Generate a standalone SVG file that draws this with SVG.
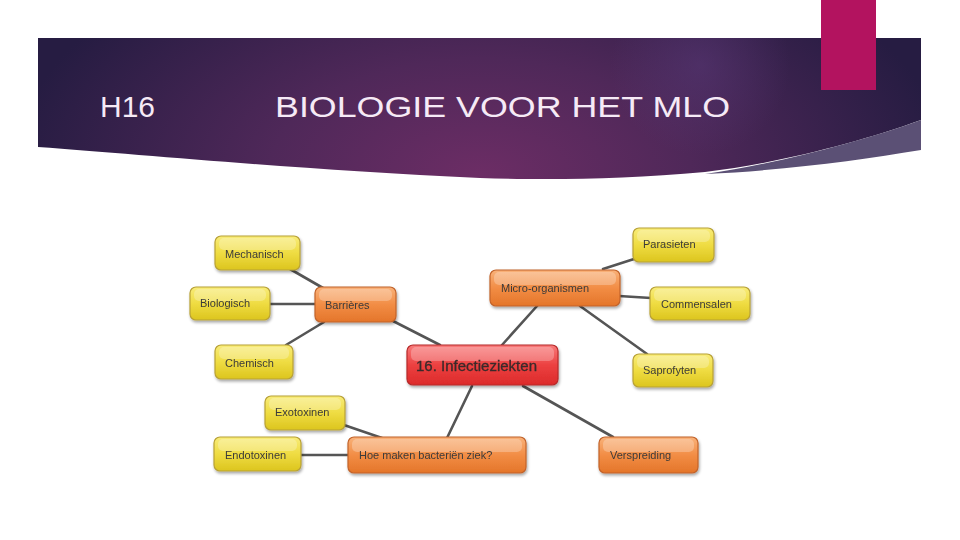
<svg xmlns="http://www.w3.org/2000/svg" width="960" height="540" viewBox="0 0 960 540">
<defs>
<radialGradient id="hdr" cx="480" cy="175" r="470" gradientUnits="userSpaceOnUse" gradientTransform="translate(480 175) scale(1 0.55) translate(-480 -175)">
<stop offset="0" stop-color="#6c2d65"/>
<stop offset="0.45" stop-color="#4f2859"/>
<stop offset="1" stop-color="#261c42"/>
</radialGradient>
<radialGradient id="glow" cx="700" cy="65" r="90" gradientUnits="userSpaceOnUse">
<stop offset="0" stop-color="#5a3a7a" stop-opacity="0.5"/>
<stop offset="1" stop-color="#5a3a7a" stop-opacity="0"/>
</radialGradient>
<linearGradient id="yel" x1="0" y1="0" x2="0" y2="1">
<stop offset="0" stop-color="#f8ec7a"/>
<stop offset="0.5" stop-color="#efdc42"/>
<stop offset="1" stop-color="#dcc51e"/>
</linearGradient>
<linearGradient id="org" x1="0" y1="0" x2="0" y2="1">
<stop offset="0" stop-color="#f9b27a"/>
<stop offset="0.5" stop-color="#f28d45"/>
<stop offset="1" stop-color="#e4752a"/>
</linearGradient>
<linearGradient id="red" x1="0" y1="0" x2="0" y2="1">
<stop offset="0" stop-color="#f87a7a"/>
<stop offset="0.5" stop-color="#ec4141"/>
<stop offset="1" stop-color="#dc2a2a"/>
</linearGradient>
<filter id="sh" x="-20%" y="-30%" width="140%" height="170%">
<feGaussianBlur in="SourceAlpha" stdDeviation="1.5"/>
<feOffset dx="1" dy="2" result="b"/>
<feComponentTransfer><feFuncA type="linear" slope="0.35"/></feComponentTransfer>
<feMerge><feMergeNode/><feMergeNode in="SourceGraphic"/></feMerge>
</filter>
</defs>
<style>
.y{fill:url(#yel);stroke:#b8a136;stroke-width:1.2}
.o{fill:url(#org);stroke:#c2632a;stroke-width:1.2}
.r{fill:url(#red);stroke:#b62a2a;stroke-width:1.2}
.t{font-family:"Liberation Sans",Arial,sans-serif;font-size:11px;fill:#3a3a3a}
.tr{font-family:"Liberation Sans",Arial,sans-serif;font-size:14px;fill:#3a2a2a}
.hl{fill:#ffffff;opacity:0.25}
#connectors line{stroke:#555555;stroke-width:2.6;stroke-linecap:round}
.ht{font-family:"Liberation Sans",Arial,sans-serif;font-size:30px;fill:#f6eaf6}
</style>
<rect width="960" height="540" fill="#ffffff"/>
<g id="header">
<path d="M38,38 H921 V120 C860,142 780,163 705,172 C620,180 540,180 480,178 C300,170 150,155 38,147 Z" fill="url(#hdr)"/>
<path d="M38,38 H921 V120 C860,142 780,163 705,172 C620,180 540,180 480,178 C300,170 150,155 38,147 Z" fill="url(#glow)"/>
<path d="M921,120 V150 C860,160 790,170 705,174 C780,163 860,142 921,120 Z" fill="#5b5075"/>
<rect x="821" y="0" width="55" height="90" fill="#b3135f"/>
<text class="ht" x="100" y="117">H16</text>
<text class="ht" x="275" y="117" textLength="455" lengthAdjust="spacingAndGlyphs">BIOLOGIE VOOR HET MLO</text>
</g>
<g id="connectors">
<line x1="290" y1="269" x2="323" y2="288"/>
<line x1="269" y1="304" x2="316" y2="304"/>
<line x1="286" y1="345" x2="324" y2="322"/>
<line x1="393" y1="321" x2="440" y2="345"/>
<line x1="502" y1="345" x2="537" y2="306"/>
<line x1="603" y1="269" x2="634" y2="259"/>
<line x1="619" y1="296" x2="651" y2="298"/>
<line x1="580" y1="306" x2="647" y2="354"/>
<line x1="472" y1="386" x2="447" y2="438"/>
<line x1="523" y1="386" x2="613" y2="437"/>
<line x1="344" y1="425" x2="382" y2="438"/>
<line x1="301" y1="455" x2="349" y2="455"/>
</g>
<g id="n-mechanisch" filter="url(#sh)">
<rect class="y" x="215" y="236" width="85" height="34" rx="6"/>
<rect class="hl" x="219" y="238" width="77" height="12" rx="5"/>
<text class="t" x="225" y="258">Mechanisch</text>
</g>
<g id="n-biologisch" filter="url(#sh)">
<rect class="y" x="190" y="287" width="80" height="33" rx="6"/>
<rect class="hl" x="194" y="289" width="72" height="12" rx="5"/>
<text class="t" x="200" y="307">Biologisch</text>
</g>
<g id="n-chemisch" filter="url(#sh)">
<rect class="y" x="215" y="345" width="78" height="34" rx="6"/>
<rect class="hl" x="219" y="347" width="70" height="12" rx="5"/>
<text class="t" x="225" y="367">Chemisch</text>
</g>
<g id="n-barrieres" filter="url(#sh)">
<rect class="o" x="315" y="287" width="81" height="35" rx="6"/>
<rect class="hl" x="319" y="289" width="73" height="12" rx="5"/>
<text class="t" x="325" y="309">Barrières</text>
</g>
<g id="n-infectieziekten" filter="url(#sh)">
<rect class="r" x="407" y="345" width="151" height="40" rx="6"/>
<rect class="hl" x="411" y="347" width="143" height="14" rx="5"/>
<text class="tr" x="416" y="371" textLength="121" lengthAdjust="spacingAndGlyphs" stroke="#3a2a2a" stroke-width="0.3">16. Infectieziekten</text>
</g>
<g id="n-micro" filter="url(#sh)">
<rect class="o" x="490" y="270" width="130" height="36" rx="6"/>
<rect class="hl" x="494" y="272" width="122" height="13" rx="5"/>
<text class="t" x="501" y="292">Micro-organismen</text>
</g>
<g id="n-parasieten" filter="url(#sh)">
<rect class="y" x="633" y="228" width="81" height="34" rx="6"/>
<rect class="hl" x="637" y="230" width="73" height="12" rx="5"/>
<text class="t" x="643" y="248">Parasieten</text>
</g>
<g id="n-commensalen" filter="url(#sh)">
<rect class="y" x="650" y="287" width="100" height="33" rx="6"/>
<rect class="hl" x="654" y="289" width="92" height="12" rx="5"/>
<text class="t" x="661" y="308">Commensalen</text>
</g>
<g id="n-saprofyten" filter="url(#sh)">
<rect class="y" x="633" y="354" width="80" height="33" rx="6"/>
<rect class="hl" x="637" y="356" width="72" height="12" rx="5"/>
<text class="t" x="643" y="374">Saprofyten</text>
</g>
<g id="n-exotoxinen" filter="url(#sh)">
<rect class="y" x="265" y="396" width="80" height="34" rx="6"/>
<rect class="hl" x="269" y="398" width="72" height="12" rx="5"/>
<text class="t" x="275" y="416">Exotoxinen</text>
</g>
<g id="n-endotoxinen" filter="url(#sh)">
<rect class="y" x="214" y="437" width="87" height="34" rx="6"/>
<rect class="hl" x="218" y="439" width="79" height="12" rx="5"/>
<text class="t" x="225" y="459">Endotoxinen</text>
</g>
<g id="n-hoe" filter="url(#sh)">
<rect class="o" x="348" y="437" width="178" height="36" rx="6"/>
<rect class="hl" x="352" y="439" width="170" height="13" rx="5"/>
<text class="t" x="359" y="459">Hoe maken bacteriën ziek?</text>
</g>
<g id="n-verspreiding" filter="url(#sh)">
<rect class="o" x="599" y="437" width="99" height="36" rx="6"/>
<rect class="hl" x="603" y="439" width="91" height="13" rx="5"/>
<text class="t" x="610" y="459">Verspreiding</text>
</g>
</svg>
